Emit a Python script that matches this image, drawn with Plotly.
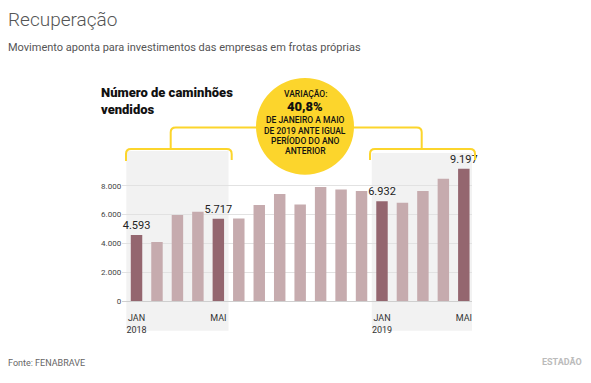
import plotly.graph_objects as go

W, H = 591, 383
OFF = 8  # page body margin
FW, FH = W - OFF, H - OFF

# ---- data ----
months = ["JAN 2018", "FEV 2018", "MAR 2018", "ABR 2018", "MAI 2018", "JUN 2018",
          "JUL 2018", "AGO 2018", "SET 2018", "OUT 2018", "NOV 2018", "DEZ 2018",
          "JAN 2019", "FEV 2019", "MAR 2019", "ABR 2019", "MAI 2019"]
sales = [4593, 4100, 5980, 6200, 5717, 5740, 6670, 7430, 6710, 7930, 7750,
         7650, 6932, 6830, 7650, 8500, 9197]
highlight = [0, 4, 12, 16]
tick_positions = [0, 4, 12, 16]
tick_labels = ["JAN<br>2018", "MAI", "JAN<br>2019", "MAI"]
y_ticks = [0, 2000, 4000, 6000, 8000]

title = "Recuperação"
subtitle = "Movimento aponta para investimentos das empresas em frotas próprias"
chart_label = "Número de caminhões<br>vendidos"
badge_lines = ["VARIAÇÃO:", "40,8%", "DE JANEIRO A MAIO", "DE 2019 ANTE IGUAL",
               "PERÍODO DO ANO", "ANTERIOR"]
source = "Fonte: FENABRAVE"
brand = "ESTADÃO"

DARK = "#94666f"
LIGHT = "#c6abae"
YEL = "#fcd52c"

x_idx = list(range(len(sales)))
colors = [DARK if i in highlight else LIGHT for i in x_idx]
labels = [f"{v:,}".replace(",", ".") if i in highlight else "" for i, v in enumerate(sales)]


def px(x):
    return (x - OFF) / FW


def py(y):
    return (H - y) / FH


def path(cmds):
    out = []
    for cmd in cmds:
        c = cmd[0]
        nums = cmd[1:]
        coords = []
        for k in range(0, len(nums), 2):
            coords.append(f"{px(nums[k]):.5f},{py(nums[k+1]):.5f}")
        out.append(c + " " + " ".join(coords))
    return " ".join(out)


fig = go.Figure(go.Bar(
    x=x_idx, y=sales, marker_color=colors, marker_line_width=0,
    text=labels, textposition="outside", constraintext="none", cliponaxis=False,
    textfont=dict(family="Roboto", size=11, color="#222"),
    hoverinfo="skip",
))

shapes = []
# shaded periods
shapes.append(dict(type="rect", xref="x", yref="paper", x0=-0.5, x1=4.5,
                   y0=py(335), y1=py(153), fillcolor="#f2f2f2", line_width=0, layer="below"))
shapes.append(dict(type="rect", xref="x", yref="paper", x0=11.5, x1=16.4,
                   y0=py(335), y1=py(155), fillcolor="#f2f2f2", line_width=0, layer="below"))
# brackets
ln = dict(color=YEL, width=2)
shapes.append(dict(type="path", xref="paper", yref="paper", line=ln, layer="above",
                   path=path([("M", 126, 163), ("L", 126, 156), ("Q", 126, 151, 131, 151),
                              ("L", 226.7, 151), ("Q", 231.7, 151, 231.7, 156), ("L", 231.7, 162)])))
shapes.append(dict(type="path", xref="paper", yref="paper", line=ln, layer="above",
                   path=path([("M", 170.7, 151), ("L", 170.7, 134), ("Q", 170.7, 129, 175.7, 129),
                              ("L", 262, 129)])))
shapes.append(dict(type="path", xref="paper", yref="paper", line=ln, layer="above",
                   path=path([("M", 350, 129), ("L", 416.7, 129), ("Q", 421.7, 129, 421.7, 134),
                              ("L", 421.7, 151)])))
shapes.append(dict(type="path", xref="paper", yref="paper", line=ln, layer="above",
                   path=path([("M", 370, 162), ("L", 370, 156), ("Q", 370, 151, 375, 151),
                              ("L", 470, 151), ("Q", 475, 151, 475, 156), ("L", 475, 162)])))
# badge
shapes.append(dict(type="circle", xref="paper", yref="paper", x0=px(256), x1=px(354),
                   y0=py(177), y1=py(79), fillcolor=YEL, line_width=0, layer="above"))

ann = []
ann.append(dict(text=title, x=px(6), y=py(20), xanchor="left", yanchor="middle",
                font=dict(family="Roboto", size=19, color="#555", weight=300)))
ann.append(dict(text=subtitle, x=px(6), y=py(48), xanchor="left", yanchor="middle",
                font=dict(family="Roboto", size=11, color="#555")))
ann.append(dict(text=chart_label, x=px(99), y=py(102), xanchor="left", yanchor="middle",
                align="left", font=dict(family="Roboto", size=13, color="#111", weight=900)))
badge_y = [95, 108, 121.7, 132.3, 142.7, 153.3]
for i, (t, yy) in enumerate(zip(badge_lines, badge_y)):
    f = dict(family="Roboto", size=13 if i == 1 else 8.5, color="#111",
             weight=900 if i == 1 else 500)
    ann.append(dict(text=t, x=px(305), y=py(yy), xanchor="center", yanchor="middle", font=f))
ann.append(dict(text=source, x=px(6), y=py(368), xanchor="left", yanchor="middle",
                font=dict(family="Roboto", size=9, color="#666")))
ann.append(dict(text=brand, x=px(584), y=py(367), xanchor="right", yanchor="middle",
                font=dict(family="Roboto", size=9, color="#bbb", weight=700)))
for a in ann:
    a.update(xref="paper", yref="paper", showarrow=False)

fig.update_layout(
    width=FW, height=FH, margin=dict(l=0, r=0, t=0, b=0),
    paper_bgcolor="white", plot_bgcolor="rgba(0,0,0,0)",
    separators=",.", showlegend=False, bargap=0.44,
    shapes=shapes, annotations=ann,
    xaxis=dict(domain=[px(122.2), px(472)], range=[-0.7, 16.4], tickmode="array",
               tickvals=tick_positions, ticktext=tick_labels, showgrid=False,
               zeroline=False, showline=False, ticks="", ticklabelstandoff=10,
               tickfont=dict(family="Roboto", size=9, color="#333")),
    yaxis=dict(domain=[py(305), py(159.1)], range=[0, 10000], tickmode="array",
               tickvals=y_ticks, tickformat=",.0f", showgrid=True, gridcolor="#e2e2e2",
               gridwidth=1, zeroline=True, zerolinecolor="#cfcfcf", zerolinewidth=1,
               showline=False, ticks="",
               tickfont=dict(family="Roboto", size=8, color="#444")),
)

fig.write_html("out.html")
